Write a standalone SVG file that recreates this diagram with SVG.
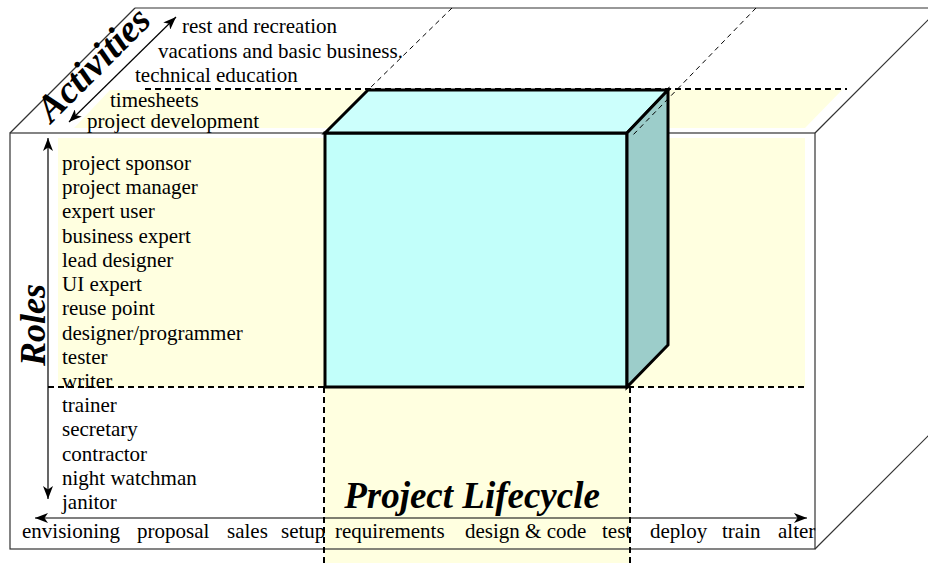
<svg xmlns="http://www.w3.org/2000/svg" width="928" height="563" viewBox="0 0 928 563">
<style>
.t{font-family:"Liberation Serif","Times New Roman",serif;font-size:21px;fill:#000}
.h{font-family:"Liberation Serif","Times New Roman",serif;font-size:36px;font-weight:bold;font-style:italic;fill:#000}
.edge{fill:none;stroke:#333;stroke-width:1.2}
.dash{fill:none;stroke:#000;stroke-width:2;stroke-dasharray:6 4}
.dthin{fill:none;stroke:#000;stroke-width:1;stroke-dasharray:5 4}
.band{fill:#FFFFE0;stroke:none}
.cube{stroke:#000;stroke-width:3;stroke-linejoin:miter}
.arr{fill:none;stroke:#000;stroke-width:1.2;marker-start:url(#ah);marker-end:url(#ah)}
</style>
<defs>
<marker id="ah" markerUnits="userSpaceOnUse" markerWidth="14" markerHeight="10" refX="13" refY="5" orient="auto-start-reverse">
<path d="M0,0 L13,5 L0,10 L3.5,5 z" fill="#000"/>
</marker>
</defs>
<rect x="0" y="0" width="928" height="563" fill="#fff"/>
<g id="bands">
<rect class="band" x="58" y="138" width="747" height="249"/>
<polygon class="band" points="110,90 842,90 805,128 74,128"/>
<rect class="band" x="325" y="387" width="305" height="176"/>
</g>
<g id="outer-box">
<rect class="edge" x="10" y="133" width="805" height="416"/>
<line class="edge" x1="10" y1="133" x2="135" y2="8"/>
<line class="edge" x1="135" y1="8" x2="928" y2="8"/>
<line class="edge" x1="815" y1="133" x2="940" y2="8"/>
<line class="edge" x1="815" y1="549" x2="940" y2="424"/>
</g>
<g id="slices">
<line class="dash" x1="145" y1="89" x2="847" y2="89"/>
<line class="dash" x1="48" y1="387" x2="808" y2="387"/>
<line class="dash" x1="324" y1="387" x2="324" y2="563"/>
<line class="dash" x1="630" y1="387" x2="630" y2="563"/>
<line class="dthin" x1="452" y1="8" x2="368" y2="90"/>
</g>
<g id="cube">
<rect class="cube" x="325" y="133" width="302" height="254" fill="#C2FFFA"/>
<polygon class="cube" points="325,133 368,90 668,90 627,133" fill="#CCFFFC"/>
<polygon class="cube" points="627,133 668,90 668,345 627,387" fill="#9CCDCA"/>
</g>
<g id="connectors">
<line class="dthin" x1="756" y1="8" x2="632" y2="136"/>
<line class="arr" x1="69" y1="122" x2="176" y2="17"/>
<line class="arr" x1="48" y1="138" x2="48" y2="499"/>
<line class="arr" x1="35" y1="518" x2="807" y2="518"/>
</g>
<g id="activities">
<text class="h" style="font-size:38px" transform="translate(102,73) rotate(-45)" text-anchor="middle">Activities</text>
<text class="t" x="182" y="33">rest and recreation</text>
<text class="t" x="158" y="58">vacations and basic business.</text>
<text class="t" x="135" y="82">technical education</text>
<text class="t" x="110" y="107">timesheets</text>
<text class="t" x="87" y="128">project development</text>
</g>
<g id="roles">
<text class="h" transform="translate(45,325) rotate(-90)" text-anchor="middle">Roles</text>
<text class="t" x="62" y="170">project sponsor</text>
<text class="t" x="62" y="194">project manager</text>
<text class="t" x="62" y="218">expert user</text>
<text class="t" x="62" y="243">business expert</text>
<text class="t" x="62" y="267">lead designer</text>
<text class="t" x="62" y="291">UI expert</text>
<text class="t" x="62" y="315">reuse point</text>
<text class="t" x="62" y="340">designer/programmer</text>
<text class="t" x="62" y="364">tester</text>
<text class="t" x="62" y="388">writer</text>
<text class="t" x="62" y="412">trainer</text>
<text class="t" x="62" y="436">secretary</text>
<text class="t" x="62" y="461">contractor</text>
<text class="t" x="62" y="485">night watchman</text>
<text class="t" x="62" y="509">janitor</text>
</g>
<g id="lifecycle">
<text class="h" style="font-size:37px" x="472" y="508" text-anchor="middle">Project Lifecycle</text>
<text class="t" x="22" y="538">envisioning</text>
<text class="t" x="137" y="538">proposal</text>
<text class="t" x="227" y="538">sales</text>
<text class="t" x="281" y="538">setup</text>
<text class="t" x="335" y="538">requirements</text>
<text class="t" x="465" y="538">design &amp; code</text>
<text class="t" x="602" y="538">test</text>
<text class="t" x="650" y="538">deploy</text>
<text class="t" x="722" y="538">train</text>
<text class="t" x="778" y="538">alter</text>
</g>
</svg>
